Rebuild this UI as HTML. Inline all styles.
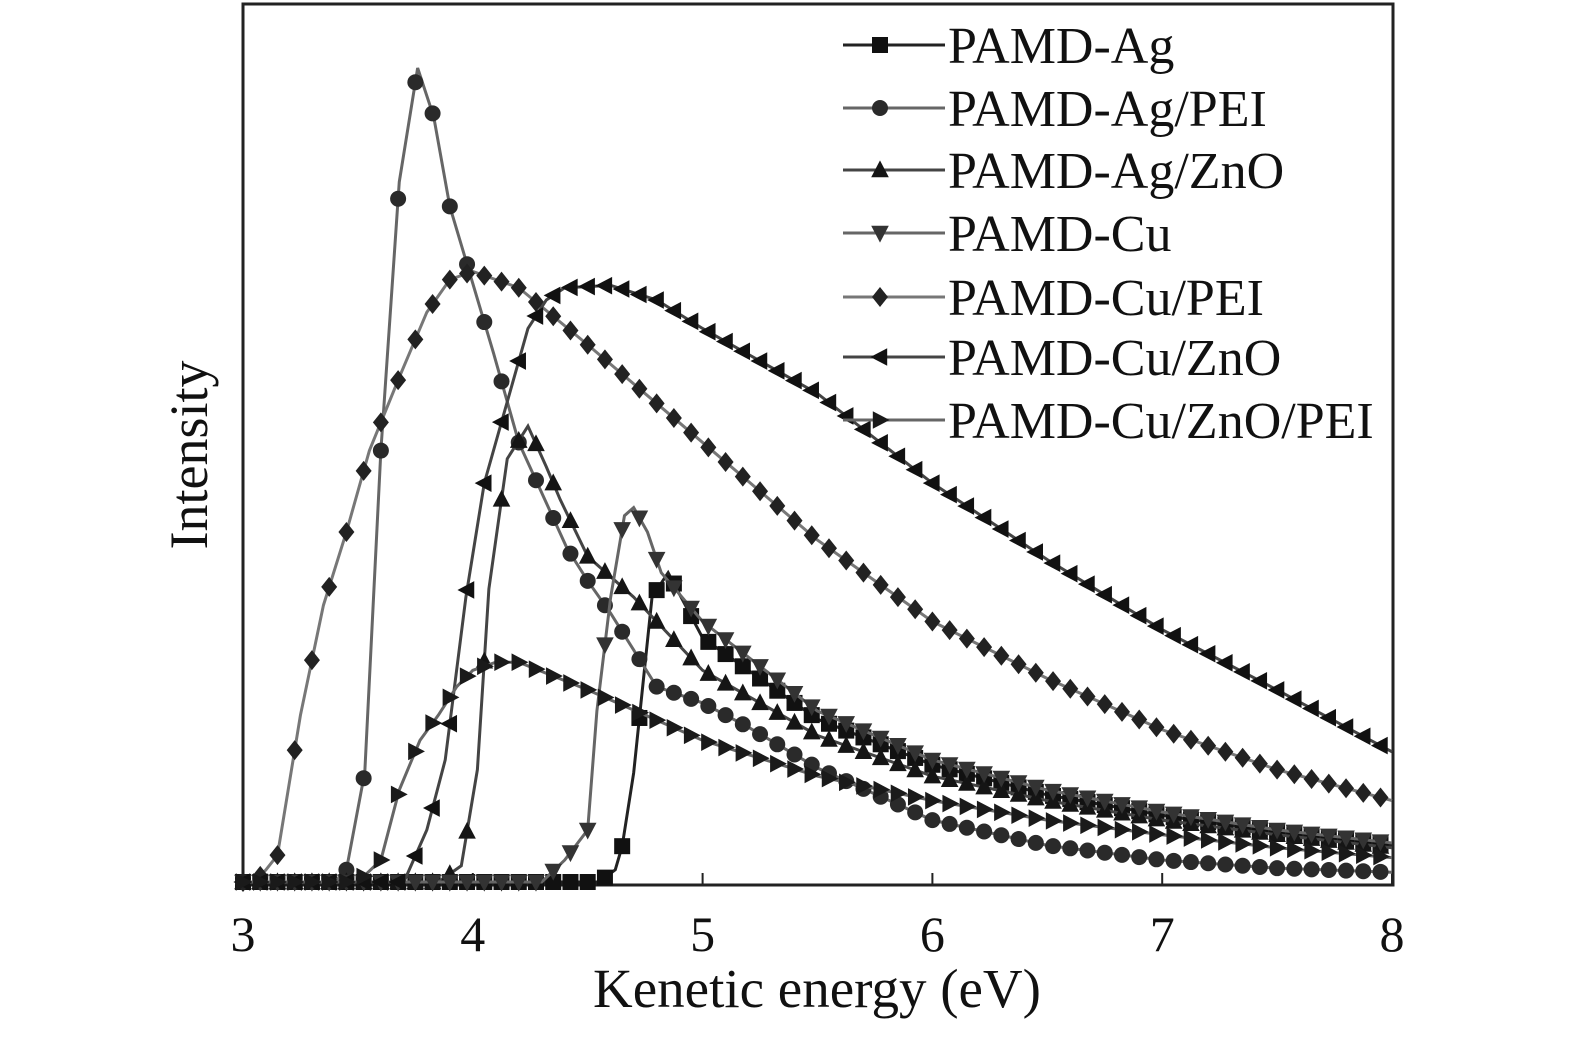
<!DOCTYPE html>
<html><head><meta charset="utf-8"><style>
html,body{margin:0;padding:0;background:#fff;}
svg text{font-family:"Liberation Serif",serif;fill:#111;}
</style></head><body>
<svg id="chart" width="1575" height="1033" viewBox="0 0 1575 1033" xmlns="http://www.w3.org/2000/svg">
<rect x="243" y="4" width="1150" height="881" fill="none" stroke="#222" stroke-width="3"/>
<g id="ticks"></g>
<g id="series"></g>
<g id="legend"></g>
<text x="817" y="1007" font-size="55" text-anchor="middle">Kenetic energy (eV)</text>
<text x="0" y="0" font-size="54" text-anchor="middle" transform="translate(207,455) rotate(-90)">Intensity</text>
</svg>
<script>
const xTicks = [3,4,5,6,7,8];
const seriesNames = ["PAMD-Ag","PAMD-Ag/PEI","PAMD-Ag/ZnO","PAMD-Cu","PAMD-Cu/PEI","PAMD-Cu/ZnO","PAMD-Cu/ZnO/PEI"];
const agX = [3.0,4.55,4.62,4.65,4.7,4.78,4.85,5.0,5.5,6.0,6.5,7.0,7.5,8.0];
const agY = [0,0,1.5,4.4,13.4,35,38,30,20,14.4,10.7,8.2,6.1,4.5];
const agPeiX = [3.0,3.4,3.45,3.53,3.6,3.68,3.76,3.83,3.9,4.09,4.2,4.41,4.5,4.6,4.8,5.0,5.2,5.5,6.0,6.5,7.0,7.5,8.0];
const agPeiY = [0,0,1.5,13.5,53,86,100,94,83,65,54,41,37,33,24,22,19,14,7.6,4.5,2.7,1.7,1.2];
const agZnoX = [3.0,3.85,3.95,4.02,4.07,4.15,4.24,4.32,4.38,4.5,4.7,5.0,5.5,6.0,6.5,7.0,7.5,8.0];
const agZnoY = [0,0,2,13.8,36,52,56,51,47,40,35,26,18,13,10,7.6,5.8,4.2];
const cuX = [3.0,4.3,4.4,4.5,4.54,4.6,4.66,4.7,4.76,4.82,5.0,5.5,6.0,6.5,7.0,7.5,8.0];
const cuY = [0,0,2.7,6.4,21,35,45,46,43,38,32,21,15,11.3,8.6,6.4,4.8];
const cuPeiX = [3.0,3.05,3.1,3.15,3.25,3.35,3.45,3.55,3.68,3.8,3.9,4.0,4.1,4.2,4.5,5.0,5.5,6.0,6.5,7.0,7.5,8.0];
const cuPeiY = [0,0,1.5,3.3,20.5,34,43,53,62,70,74,75,74,73,66,54,42,32,25,18.7,13.8,10];
const cuZnoX = [3.0,3.7,3.8,3.88,3.97,4.05,4.14,4.24,4.32,4.4,4.6,4.8,5.0,5.5,6.0,6.5,7.0,7.5,8.0];
const cuZnoY = [0,0,6.4,15,35,49,58,68,71.5,73,73.3,71.5,68,60,49,39.6,31,23.6,16];
const cuZnoPeiX = [3.0,3.5,3.6,3.68,3.77,3.85,3.93,4.0,4.1,4.2,4.5,5.0,5.5,6.0,6.5,7.0,7.5,8.0];
const cuZnoPeiY = [0,0,2.7,11.3,17.4,20.5,24,26,27,27,23.6,17.4,13,10,7.6,5.8,4.2,3];

const NS = "http://www.w3.org/2000/svg";
const xs = e => 243 + (e - 3) * 229.8;
const ys = v => 882 - v * 8.14;
const svgTicks = document.getElementById('ticks');
xTicks.forEach(t => {
  const l = document.createElementNS(NS,'line');
  l.setAttribute('x1',xs(t)); l.setAttribute('x2',xs(t));
  l.setAttribute('y1',885); l.setAttribute('y2',873);
  l.setAttribute('stroke','#222'); l.setAttribute('stroke-width','2');
  
  
  svgTicks.appendChild(l);
  const tx = document.createElementNS(NS,'text');
  tx.setAttribute('x',xs(t)); tx.setAttribute('y',951);
  tx.setAttribute('font-size','50'); tx.setAttribute('text-anchor','middle');
  tx.textContent = t;
  
  
  svgTicks.appendChild(tx);
});

const styles = [
  {m:'square', line:'#222', fill:'#111'},
  {m:'circle', line:'#666', fill:'#2a2a2a'},
  {m:'up', line:'#444', fill:'#151515'},
  {m:'down', line:'#666', fill:'#333'},
  {m:'diamond', line:'#777', fill:'#222'},
  {m:'left', line:'#444', fill:'#111'},
  {m:'right', line:'#666', fill:'#1a1a1a'}
];
const data = [[agX,agY],[agPeiX,agPeiY],[agZnoX,agZnoY],[cuX,cuY],[cuPeiX,cuPeiY],[cuZnoX,cuZnoY],[cuZnoPeiX,cuZnoPeiY]];

function marker(type, cx, cy, s, fill){
  let el;
  if(type==='circle'){ el=document.createElementNS(NS,'circle'); el.setAttribute('cx',cx); el.setAttribute('cy',cy); el.setAttribute('r',s); }
  else if(type==='square'){ el=document.createElementNS(NS,'rect'); el.setAttribute('x',cx-s); el.setAttribute('y',cy-s); el.setAttribute('width',2*s); el.setAttribute('height',2*s); }
  else {
    let p;
    if(type==='up') p=[[cx,cy-s*1.2],[cx+s*1.1,cy+s*0.9],[cx-s*1.1,cy+s*0.9]];
    else if(type==='down') p=[[cx,cy+s*1.2],[cx+s*1.1,cy-s*0.9],[cx-s*1.1,cy-s*0.9]];
    else if(type==='left') p=[[cx-s*1.2,cy],[cx+s*0.9,cy-s*1.1],[cx+s*0.9,cy+s*1.1]];
    else if(type==='right') p=[[cx+s*1.2,cy],[cx-s*0.9,cy-s*1.1],[cx-s*0.9,cy+s*1.1]];
    else p=[[cx,cy-s*1.25],[cx+s,cy],[cx,cy+s*1.25],[cx-s,cy]];
    el=document.createElementNS(NS,'polygon'); el.setAttribute('points',p.map(q=>q.join(',')).join(' '));
  }
  el.setAttribute('fill',fill);
  return el;
}
function interp(X,Y,e){
  for(let i=0;i<X.length-1;i++){ if(e>=X[i]&&e<=X[i+1]){ const t=(e-X[i])/(X[i+1]-X[i]); return Y[i]+t*(Y[i+1]-Y[i]); } }
  return Y[Y.length-1];
}
const layer = document.getElementById('series');
data.forEach((d,k)=>{
  const [X,Y]=d; const st=styles[k];
  const g=document.createElementNS(NS,'g');
  
  
  const pl=document.createElementNS(NS,'polyline');
  pl.setAttribute('points',X.map((x,i)=>xs(x)+','+ys(Y[i])).join(' '));
  pl.setAttribute('fill','none'); pl.setAttribute('stroke',st.line); pl.setAttribute('stroke-width','3');
  
  
  g.appendChild(pl);
  for(let e=X[0]; e<=X[X.length-1]+1e-6; e+=0.075){
    const m=marker(st.m, xs(e), ys(interp(X,Y,e)), 8, st.fill);
    
    
    g.appendChild(m);
  }
  layer.appendChild(g);
});
const leg=document.getElementById('legend');
const legY=[45,108,170,233,297,357,420];
seriesNames.forEach((n,k)=>{
  const st=styles[k];
  const g=document.createElementNS(NS,'g');
  
  
  const l=document.createElementNS(NS,'line');
  l.setAttribute('x1',843); l.setAttribute('x2',945); l.setAttribute('y1',legY[k]); l.setAttribute('y2',legY[k]);
  l.setAttribute('stroke',st.line); l.setAttribute('stroke-width','3');
  g.appendChild(l);
  g.appendChild(marker(st.m,880,legY[k],8,st.fill));
  const t=document.createElementNS(NS,'text');
  t.setAttribute('x',948); t.setAttribute('y',legY[k]+18); t.setAttribute('font-size','52');
  t.textContent=n;
  g.appendChild(t);
  leg.appendChild(g);
});
</script>
</body></html>
